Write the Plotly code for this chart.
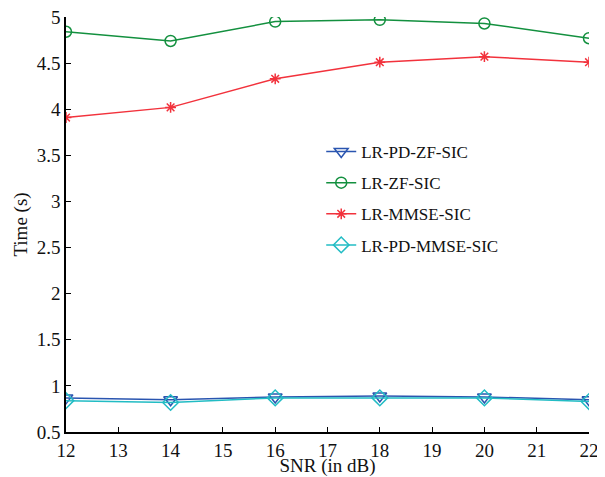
import plotly.graph_objects as go

snr = [12, 14, 16, 18, 20, 22]
lr_pd_zf = [0.87, 0.85, 0.88, 0.89, 0.88, 0.85]
lr_zf = [4.84, 4.74, 4.95, 4.97, 4.93, 4.77]
lr_mmse = [3.91, 4.02, 4.33, 4.51, 4.57, 4.51]
lr_pd_mmse = [0.84, 0.82, 0.87, 0.87, 0.87, 0.83]

names = ["LR-PD-ZF-SIC", "LR-ZF-SIC", "LR-MMSE-SIC", "LR-PD-MMSE-SIC"]
series = [lr_pd_zf, lr_zf, lr_mmse, lr_pd_mmse]
colors = ["#2a55b0", "#13903f", "#f2323c", "#22bcc4"]
symbols = ["triangle-down-open", "circle-open", "asterisk-open", "diamond-open"]
sizes = [12, 11, 9, 12]

fig = go.Figure()
for i, (n, s, c, m, sz) in enumerate(zip(names, series, colors, symbols, sizes)):
    fig.add_trace(go.Scatter(
        x=snr, y=s, name=n, mode="lines+markers", legendgroup=f"g{i}",
        line=dict(color=c, width=1.5),
        marker=dict(symbol=m, size=sz, color=c, line=dict(color=c, width=1.5)),
    ))

fam = "Liberation Serif, Times New Roman, serif"
fig.update_layout(
    width=597, height=469,
    margin=dict(l=58, r=16, t=9, b=45),
    paper_bgcolor="white", plot_bgcolor="white",
    font=dict(family=fam, size=19, color="#111"),
    showlegend=True,
    legend=dict(x=0.488, y=0.718, xanchor="left", yanchor="top",
                bgcolor="rgba(0,0,0,0)", borderwidth=0,
                font=dict(family=fam, size=17, color="#111"),
                tracegroupgap=6),
)
fig.update_xaxes(range=[12, 22], dtick=1, tick0=12, showgrid=False, zeroline=False,
                 showline=True, linecolor="black", linewidth=1.5, automargin=False,
                 ticks="inside", ticklen=5, tickcolor="black",
                 ticklabeloverflow="allow", tickfont=dict(size=19),
                 title=dict(text="SNR (in dB)", standoff=2, font=dict(size=19)))
fig.update_yaxes(range=[0.5, 5], dtick=0.5, tick0=0.5, showgrid=False, zeroline=False,
                 showline=True, linecolor="black", linewidth=1.5, automargin=False,
                 ticks="inside", ticklen=5, tickcolor="black",
                 ticklabeloverflow="allow", tickfont=dict(size=19),
                 title=dict(text="Time (s)", standoff=4, font=dict(size=19)))

fig.write_html("out.html")
